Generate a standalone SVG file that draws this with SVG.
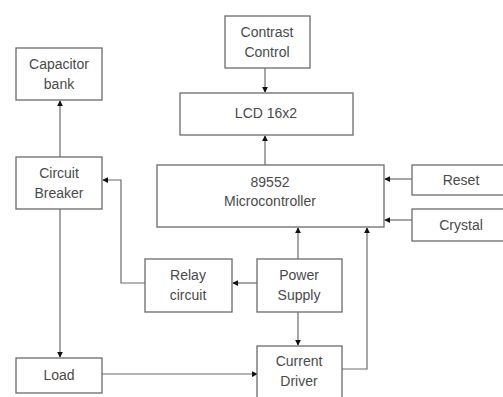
<svg xmlns="http://www.w3.org/2000/svg" width="503" height="397" viewBox="0 0 503 397">
<style>
.box{fill:#fff;stroke:#6b6b6b;stroke-width:1.3}
.t{font-family:"Liberation Sans",Arial,sans-serif;font-size:14px;fill:#4a4a4a;text-anchor:middle}
.c{fill:none;stroke:#6b6b6b;stroke-width:1.2}
</style>
<defs>
<marker id="a" viewBox="0 0 8 8" refX="7" refY="4" markerWidth="6" markerHeight="6" orient="auto" markerUnits="userSpaceOnUse">
<path d="M0,0 L8,4 L0,8 z" fill="#111"/>
</marker>
</defs>
<rect width="503" height="397" fill="#fff"/>
<g id="connectors">
<path class="c" d="M60,157 V101" marker-end="url(#a)"/>
<path class="c" d="M60,209 V357" marker-end="url(#a)"/>
<path class="c" d="M102,374 H257" marker-end="url(#a)"/>
<path class="c" d="M145,283 H121 V180 H103" marker-end="url(#a)"/>
<path class="c" d="M265,68 V92" marker-end="url(#a)"/>
<path class="c" d="M265,165 V136" marker-end="url(#a)"/>
<path class="c" d="M412,179 H385" marker-end="url(#a)"/>
<path class="c" d="M412,220 H385" marker-end="url(#a)"/>
<path class="c" d="M298,259 V228" marker-end="url(#a)"/>
<path class="c" d="M257,283 H233" marker-end="url(#a)"/>
<path class="c" d="M298,312 V345" marker-end="url(#a)"/>
<path class="c" d="M342,369 H367 V228" marker-end="url(#a)"/>
</g>
<g id="capacitor-bank"><rect class="box" x="16" y="48" width="86" height="52"/><text class="t" x="59" y="69">Capacitor</text><text class="t" x="59" y="89">bank</text></g>
<g id="circuit-breaker"><rect class="box" x="16" y="157" width="86" height="52"/><text class="t" x="59" y="178">Circuit</text><text class="t" x="59" y="198">Breaker</text></g>
<g id="load"><rect class="box" x="16" y="358" width="86" height="35"/><text class="t" x="59" y="380">Load</text></g>
<g id="contrast-control"><rect class="box" x="225" y="16" width="85" height="52"/><text class="t" x="267" y="37">Contrast</text><text class="t" x="267" y="57">Control</text></g>
<g id="lcd"><rect class="box" x="180" y="93" width="173" height="42"/><text class="t" x="266" y="118">LCD 16x2</text></g>
<g id="microcontroller"><rect class="box" x="157" y="165" width="227" height="62"/><text class="t" x="270" y="187">89552</text><text class="t" x="270" y="206">Microcontroller</text></g>
<g id="reset"><rect class="box" x="412" y="165" width="95" height="30"/><text class="t" x="461" y="185">Reset</text></g>
<g id="crystal"><rect class="box" x="412" y="209" width="95" height="32"/><text class="t" x="461" y="230">Crystal</text></g>
<g id="relay-circuit"><rect class="box" x="145" y="259" width="87" height="53"/><text class="t" x="188" y="280">Relay</text><text class="t" x="188" y="300">circuit</text></g>
<g id="power-supply"><rect class="box" x="257" y="259" width="85" height="53"/><text class="t" x="299" y="280">Power</text><text class="t" x="299" y="300">Supply</text></g>
<g id="current-driver"><rect class="box" x="257" y="346" width="85" height="56"/><text class="t" x="299" y="366">Current</text><text class="t" x="299" y="386">Driver</text></g>
</svg>
